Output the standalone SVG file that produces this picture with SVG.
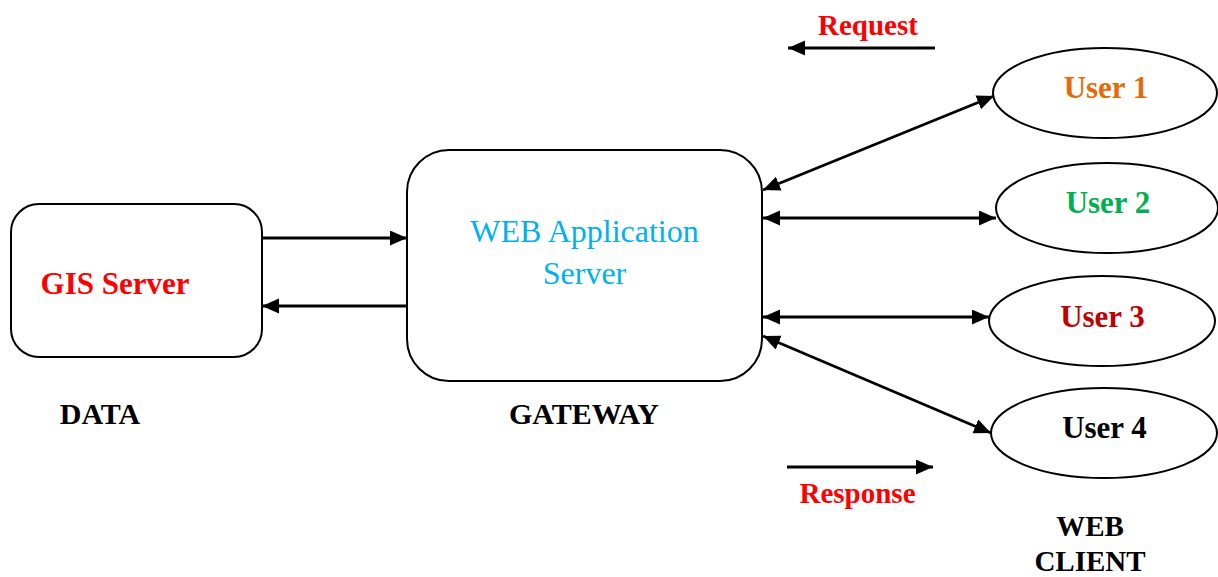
<svg xmlns="http://www.w3.org/2000/svg" width="1218" height="577" viewBox="0 0 1218 577">
<defs>
<marker id="ah" markerUnits="userSpaceOnUse" markerWidth="18" markerHeight="16" refX="17" refY="7.5" orient="auto-start-reverse">
<path d="M0,0 L17,7.5 L0,15 z" fill="#000"/>
</marker>
<style>
.box{fill:#fff;stroke:#000;stroke-width:2}
.con{fill:none;stroke:#000;stroke-width:2.8}
.t{font-family:"Liberation Serif","Times New Roman",serif;text-anchor:middle}
.b{font-weight:bold}
</style>
</defs>
<rect width="1218" height="577" fill="#fff"/>
<g id="gis-server">
<rect class="box" x="11" y="204" width="251" height="153" rx="28" ry="28"/>
<text class="t b" x="115" y="294" font-size="31" fill="#FF0000">GIS Server</text>
</g>
<g id="web-app-server">
<rect class="box" x="407" y="150" width="355" height="231" rx="42" ry="42"/>
<text class="t" x="584.5" y="242" font-size="32" fill="#00B0F0">WEB Application</text>
<text class="t" x="584.5" y="284" font-size="32" fill="#00B0F0">Server</text>
</g>
<g id="user1">
<ellipse class="box" cx="1105" cy="93" rx="112" ry="45"/>
<text class="t b" x="1106" y="98" font-size="31" fill="#E36C0A">User 1</text>
</g>
<g id="user2">
<ellipse class="box" cx="1107" cy="208" rx="111" ry="45"/>
<text class="t b" x="1108" y="213" font-size="31" fill="#00B050">User 2</text>
</g>
<g id="user3">
<ellipse class="box" cx="1102" cy="321" rx="113" ry="45"/>
<text class="t b" x="1102.5" y="327" font-size="31" fill="#C00000">User 3</text>
</g>
<g id="user4">
<ellipse class="box" cx="1104" cy="433" rx="113" ry="45"/>
<text class="t b" x="1104.5" y="438" font-size="31" fill="#000">User 4</text>
</g>
<g id="labels">
<text class="t b" x="100" y="424" font-size="30" fill="#000">DATA</text>
<text class="t b" x="584" y="424" font-size="30" fill="#000">GATEWAY</text>
<text class="t b" x="1090" y="536" font-size="29" fill="#000">WEB</text>
<text class="t b" x="1090" y="571" font-size="29" fill="#000">CLIENT</text>
<text class="t b" x="868" y="35" font-size="29" fill="#FF0000">Request</text>
<text class="t b" x="857.5" y="503" font-size="29" fill="#FF0000">Response</text>
</g>
<g id="connectors">
<line class="con" x1="262" y1="238" x2="407" y2="238" marker-end="url(#ah)"/>
<line class="con" x1="407" y1="306" x2="262" y2="306" marker-end="url(#ah)"/>
<line class="con" x1="763" y1="190" x2="994" y2="96" marker-start="url(#ah)" marker-end="url(#ah)"/>
<line class="con" x1="763" y1="218" x2="996" y2="218" marker-start="url(#ah)" marker-end="url(#ah)"/>
<line class="con" x1="763" y1="317" x2="989" y2="317" marker-start="url(#ah)" marker-end="url(#ah)"/>
<line class="con" x1="763" y1="336" x2="991" y2="433" marker-start="url(#ah)" marker-end="url(#ah)"/>
<line class="con" x1="935" y1="48" x2="788" y2="48" marker-end="url(#ah)"/>
<line class="con" x1="787" y1="467" x2="933" y2="467" marker-end="url(#ah)"/>
</g>
</svg>
